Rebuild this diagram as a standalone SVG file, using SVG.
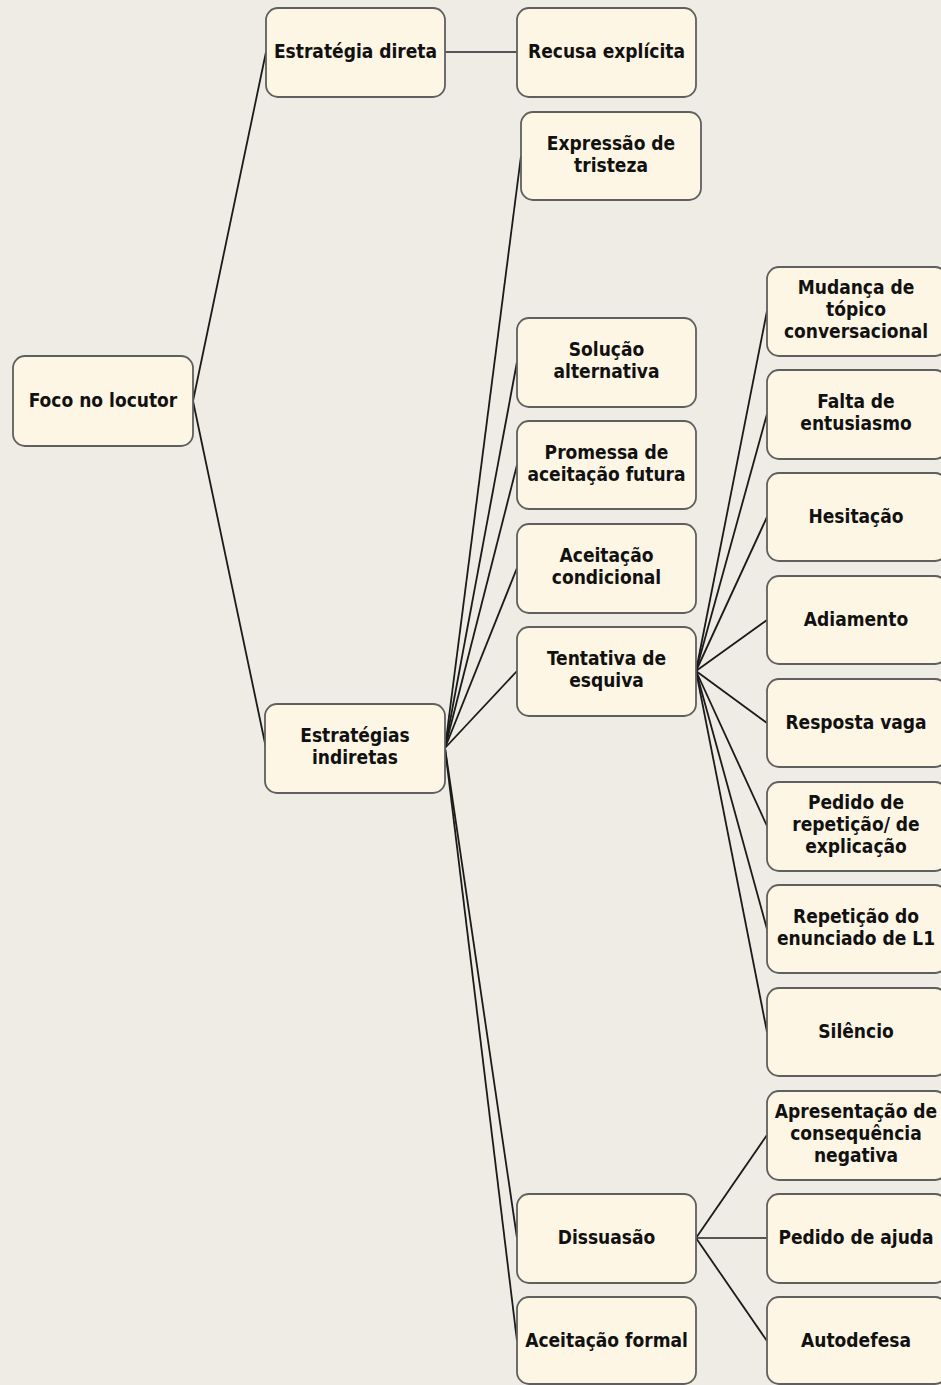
<svg xmlns="http://www.w3.org/2000/svg" width="941" height="1385" viewBox="0 0 941 1385">
<style>
.bg{fill:#eeece5}
.n rect{fill:#fdf6e4;stroke:#5f5f5f;stroke-width:1.8}
.n text{font-family:'DejaVu Sans Condensed','DejaVu Sans',sans-serif;font-weight:bold;font-size:19px;fill:#111;text-anchor:middle}
.c line{stroke:#1a1a1a;stroke-width:1.8}
</style>
<rect class="bg" x="0" y="0" width="941" height="1385"/>
<g id="connectors" class="c">
<line x1="193" y1="401" x2="266" y2="52"/>
<line x1="193" y1="401" x2="266" y2="748"/>
<line x1="445" y1="52" x2="517" y2="52" style="stroke:#555"/>
<line x1="445" y1="748" x2="521" y2="156"/>
<line x1="445" y1="748" x2="517" y2="362"/>
<line x1="445" y1="748" x2="517" y2="465"/>
<line x1="445" y1="748" x2="517" y2="568"/>
<line x1="445" y1="748" x2="517" y2="671"/>
<line x1="445" y1="748" x2="517" y2="1238"/>
<line x1="445" y1="748" x2="517" y2="1341"/>
<line x1="696" y1="671" x2="767" y2="311"/>
<line x1="696" y1="671" x2="767" y2="414"/>
<line x1="696" y1="671" x2="767" y2="517"/>
<line x1="696" y1="671" x2="767" y2="620"/>
<line x1="696" y1="671" x2="767" y2="723"/>
<line x1="696" y1="671" x2="767" y2="826"/>
<line x1="696" y1="671" x2="767" y2="929"/>
<line x1="696" y1="671" x2="767" y2="1032"/>
<line x1="696" y1="1238" x2="767" y2="1135"/>
<line x1="696" y1="1238" x2="767" y2="1238" style="stroke:#555"/>
<line x1="696" y1="1238" x2="767" y2="1341"/>
</g>
<g id="foco" class="n"><rect x="13" y="356" width="180" height="90" rx="12"/><text x="103" y="407">Foco no locutor</text></g>
<g id="direta" class="n"><rect x="266" y="8" width="179" height="89" rx="12"/><text x="355.5" y="58">Estratégia direta</text></g>
<g id="indiretas" class="n"><rect x="265" y="704" width="180" height="89" rx="12"/><text x="355" y="742">Estratégias</text><text x="355" y="764">indiretas</text></g>
<g id="recusa" class="n"><rect x="517" y="8" width="179" height="89" rx="12"/><text x="606.5" y="58">Recusa explícita</text></g>
<g id="tristeza" class="n"><rect x="521" y="112" width="180" height="88" rx="12"/><text x="611" y="150">Expressão de</text><text x="611" y="172">tristeza</text></g>
<g id="solucao" class="n"><rect x="517" y="318" width="179" height="89" rx="12"/><text x="606.5" y="356">Solução</text><text x="606.5" y="378">alternativa</text></g>
<g id="promessa" class="n"><rect x="517" y="421" width="179" height="88" rx="12"/><text x="606.5" y="459">Promessa de</text><text x="606.5" y="481">aceitação futura</text></g>
<g id="condicional" class="n"><rect x="517" y="524" width="179" height="89" rx="12"/><text x="606.5" y="562">Aceitação</text><text x="606.5" y="584">condicional</text></g>
<g id="esquiva" class="n"><rect x="517" y="627" width="179" height="89" rx="12"/><text x="606.5" y="665">Tentativa de</text><text x="606.5" y="687">esquiva</text></g>
<g id="dissuasao" class="n"><rect x="517" y="1194" width="179" height="89" rx="12"/><text x="606.5" y="1244">Dissuasão</text></g>
<g id="formal" class="n"><rect x="517" y="1297" width="179" height="87" rx="12"/><text x="606.5" y="1347">Aceitação formal</text></g>
<g id="mudanca" class="n"><rect x="767" y="267" width="180" height="89" rx="12"/><text x="856" y="294">Mudança de</text><text x="856" y="316">tópico</text><text x="856" y="338">conversacional</text></g>
<g id="falta" class="n"><rect x="767" y="370" width="180" height="89" rx="12"/><text x="856" y="408">Falta de</text><text x="856" y="430">entusiasmo</text></g>
<g id="hesitacao" class="n"><rect x="767" y="473" width="180" height="88" rx="12"/><text x="856" y="523">Hesitação</text></g>
<g id="adiamento" class="n"><rect x="767" y="576" width="180" height="88" rx="12"/><text x="856" y="626">Adiamento</text></g>
<g id="vaga" class="n"><rect x="767" y="679" width="180" height="88" rx="12"/><text x="856" y="729">Resposta vaga</text></g>
<g id="pedido" class="n"><rect x="767" y="782" width="180" height="89" rx="12"/><text x="856" y="809">Pedido de</text><text x="856" y="831">repetição/ de</text><text x="856" y="853">explicação</text></g>
<g id="repeticao" class="n"><rect x="767" y="885" width="180" height="88" rx="12"/><text x="856" y="923">Repetição do</text><text x="856" y="945">enunciado de L1</text></g>
<g id="silencio" class="n"><rect x="767" y="988" width="180" height="88" rx="12"/><text x="856" y="1038">Silêncio</text></g>
<g id="consequencia" class="n"><rect x="767" y="1091" width="180" height="89" rx="12"/><text x="856" y="1118">Apresentação de</text><text x="856" y="1140">consequência</text><text x="856" y="1162">negativa</text></g>
<g id="ajuda" class="n"><rect x="767" y="1194" width="180" height="89" rx="12"/><text x="856" y="1244">Pedido de ajuda</text></g>
<g id="autodefesa" class="n"><rect x="767" y="1297" width="180" height="87" rx="12"/><text x="856" y="1347">Autodefesa</text></g>
</svg>
